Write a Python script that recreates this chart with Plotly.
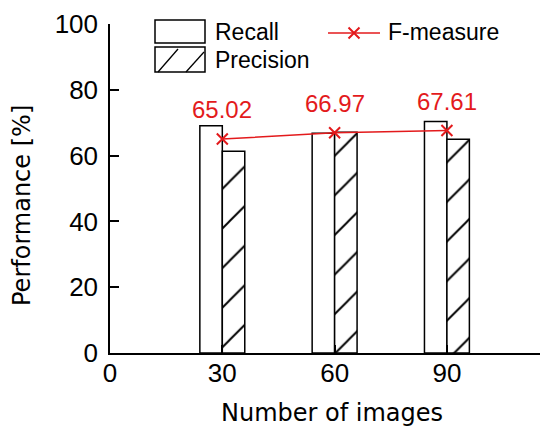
import plotly.graph_objects as go

# ---- data ----
num_images = [30, 60, 90]
recall = [69.1, 66.8, 70.4]
precision = [61.3, 67.1, 65.0]
f_measure = [65.02, 66.97, 67.61]
f_labels = ["65.02", "66.97", "67.61"]
x_ticks = [0, 30, 60, 90]
y_ticks = [0, 20, 40, 60, 80, 100]

RED = "#e31a1c"
FONT = "Arial, Liberation Sans, sans-serif"
TFONT = "DejaVu Sans, sans-serif"
OFF = 8  # page body margin
W, H = 540, 421
L, R, T, B = 102, 0, 16, 76

def px(x):  # page pixel -> paper x
    return (x - OFF - L) / (W - L - R)

def py(y):  # page pixel -> paper y
    return (H - B - (y - OFF)) / (H - T - B)

fig = go.Figure()

fig.add_trace(go.Bar(
    x=num_images, y=recall, width=6, offset=-6, name="Recall",
    marker=dict(color="white", line=dict(color="black", width=1.5)),
    showlegend=False,
))
fig.add_trace(go.Bar(
    x=num_images, y=precision, width=6, offset=0, name="Precision",
    marker=dict(color="white", line=dict(color="black", width=1.5),
                pattern=dict(shape="/", size=28, solidity=0.07, fgopacity=1,
                             fgcolor="black", bgcolor="white")),
    showlegend=False,
))
fig.add_trace(go.Scatter(
    x=num_images, y=f_measure, mode="lines+markers", name="F-measure",
    line=dict(color=RED, width=1.5),
    marker=dict(symbol="x-thin", size=11, line=dict(color=RED, width=2)),
    showlegend=False, cliponaxis=False,
))

annotations = []
for xv, yv, t in zip(num_images, f_measure, f_labels):
    annotations.append(dict(x=xv, y=yv, xref="x", yref="y", text=t,
                            showarrow=False, yanchor="bottom", yshift=14,
                            font=dict(size=24, color=RED, family=FONT)))

# y title
annotations.append(dict(x=px(22), y=py(206), xref="paper", yref="paper",
                        text="Performance [%]", textangle=-90, showarrow=False,
                        xanchor="center", yanchor="middle",
                        font=dict(size=24, color="black", family=TFONT)))
# x title
annotations.append(dict(x=px(332), y=py(413), xref="paper", yref="paper",
                        text="Number of images", showarrow=False,
                        xanchor="center", yanchor="middle",
                        font=dict(size=24, color="black", family=TFONT)))

# manual legend
shapes = []
shapes.append(dict(type="rect", xref="paper", yref="paper",
                   x0=px(155), x1=px(205), y0=py(43), y1=py(20),
                   line=dict(color="black", width=1.5), fillcolor="white"))
shapes.append(dict(type="rect", xref="paper", yref="paper",
                   x0=px(155), x1=px(205), y0=py(72), y1=py(47),
                   line=dict(color="black", width=1.5), fillcolor="white"))
shapes.append(dict(type="line", xref="paper", yref="paper",
                   x0=px(158), y0=py(72), x1=px(178), y1=py(49),
                   line=dict(color="black", width=1.3)))
shapes.append(dict(type="line", xref="paper", yref="paper",
                   x0=px(186), y0=py(72), x1=px(204), y1=py(52),
                   line=dict(color="black", width=1.3)))
shapes.append(dict(type="line", xref="paper", yref="paper",
                   x0=px(328), y0=py(33), x1=px(380), y1=py(33),
                   line=dict(color=RED, width=1.5)))
annotations.append(dict(x=px(213), y=py(32), xref="paper", yref="paper",
                        text="Recall", showarrow=False, xanchor="left", yanchor="middle",
                        font=dict(size=23, color="black", family=FONT)))
annotations.append(dict(x=px(213), y=py(60), xref="paper", yref="paper",
                        text="Precision", showarrow=False, xanchor="left", yanchor="middle",
                        font=dict(size=23, color="black", family=FONT)))
annotations.append(dict(x=px(386), y=py(32), xref="paper", yref="paper",
                        text="F-measure", showarrow=False, xanchor="left", yanchor="middle",
                        font=dict(size=23, color="black", family=FONT)))

fig.add_trace(go.Scatter(
    x=[px(354)], y=[py(33)], xaxis="x2", yaxis="y2", mode="markers",
    marker=dict(symbol="x-thin", size=11, line=dict(color=RED, width=2)),
    showlegend=False, hoverinfo="skip", cliponaxis=False,
))

fig.update_layout(
    width=W, height=H,
    margin=dict(l=L, r=R, t=T, b=B, pad=0),
    paper_bgcolor="white", plot_bgcolor="white",
    font=dict(family=FONT, size=26, color="black"),
    barmode="overlay",
    showlegend=False,
    xaxis=dict(range=[0, 117], tickvals=x_ticks, ticktext=[str(v) for v in x_ticks],
               showgrid=False, zeroline=False, showline=True, linecolor="black",
               linewidth=1.5, ticks="inside", ticklen=8, tickcolor="black",
               tickwidth=1.5, tickfont=dict(size=26), ticklabelstandoff=-4),
    yaxis=dict(range=[0, 100], tickvals=y_ticks, showgrid=False, zeroline=False,
               showline=True, linecolor="black", linewidth=1.5, ticks="inside",
               ticklen=9, tickcolor="black", tickwidth=1.5, tickfont=dict(size=26),
               ticklabelstandoff=5),
    xaxis2=dict(range=[0, 1], overlaying="x", visible=False),
    yaxis2=dict(range=[0, 1], overlaying="y", visible=False),
    shapes=shapes,
    annotations=annotations,
)

fig.write_html("out.html")
